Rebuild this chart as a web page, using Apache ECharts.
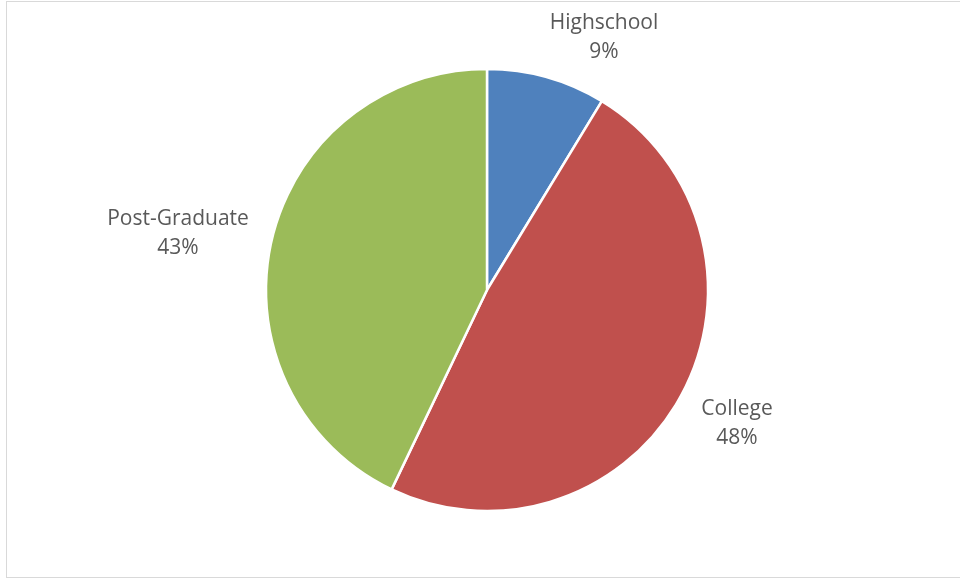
<!DOCTYPE html>
<html><head><meta charset="utf-8">
<script src="https://cdn.jsdelivr.net/npm/echarts@6/dist/echarts.min.js"></script>
<style>
html,body{margin:0;padding:0;background:#fff;}
#frame{position:absolute;left:6px;top:1px;width:960px;height:577px;border:1.5px solid #d9d9d9;box-sizing:border-box;}
#c{position:absolute;left:0;top:0;width:960px;height:579px;}
</style></head>
<body>
<div id="frame"></div>
<div id="c"></div>
<script>
const categories = ['Highschool', 'College', 'Post-Graduate'];
const values = [8.7, 48.4, 42.9];
const colors = ['#4F81BD', '#C0504D', '#9BBB59'];

// label anchor points (layout only)
const labelAnchors = [[604, 38], [737, 424], [178, 234]];

const chart = echarts.init(document.getElementById('c'), null, {renderer: 'canvas'});
chart.setOption({
  animation: false,
  series: [{
    type: 'pie',
    center: [487, 290],
    radius: 221,
    startAngle: 90,
    clockwise: true,
    data: categories.map((n, i) => ({name: n, value: values[i], itemStyle: {color: colors[i]}})),
    itemStyle: {borderColor: '#fff', borderWidth: 2.5},
    label: {
      show: true,
      position: 'outside',
      formatter: p => p.name + '\n' + Math.round(p.percent) + '%',
      fontFamily: 'Open Sans',
      fontSize: 21,
      lineHeight: 29,
      color: '#595959'
    },
    labelLine: {show: false, length: 10, length2: 0},
    labelLayout: p => ({
      x: labelAnchors[p.dataIndex][0],
      y: labelAnchors[p.dataIndex][1],
      align: 'center',
      verticalAlign: 'middle'
    }),
    emphasis: {disabled: true}
  }]
});
</script>
</body></html>
